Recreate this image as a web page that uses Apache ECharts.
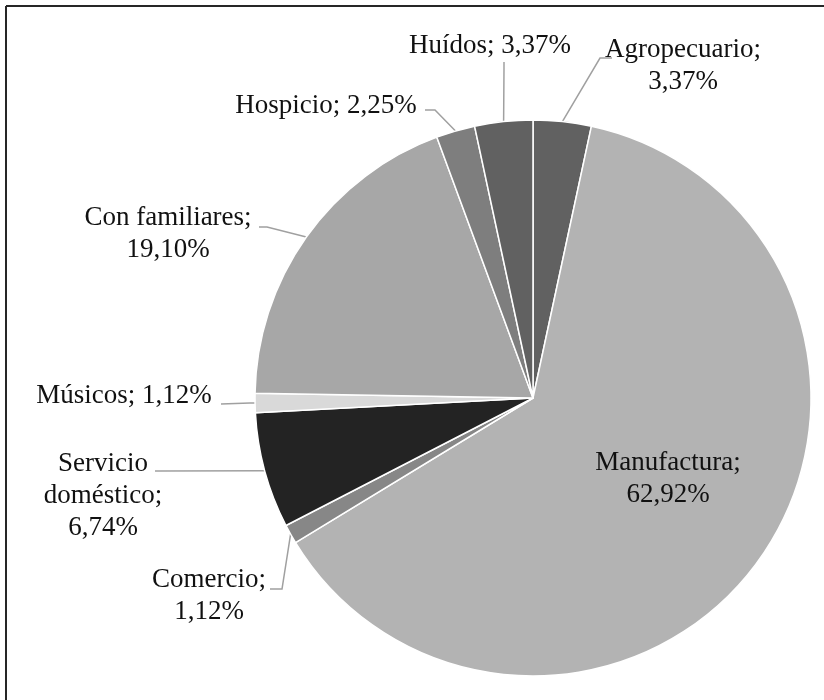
<!DOCTYPE html>
<html><head><meta charset="utf-8">
<script src="https://cdn.jsdelivr.net/npm/echarts@6/dist/echarts.min.js"></script>
<style>html,body{margin:0;padding:0;background:#fff}#c{width:824px;height:700px}</style>
</head><body><div id="c"></div>
<script>
// ---- data ----
const categories = ['Agropecuario','Manufactura','Comercio','Servicio doméstico','Músicos','Con familiares','Hospicio','Huídos'];
const values = [3.37, 62.92, 1.12, 6.74, 1.12, 19.10, 2.25, 3.37];

// ---- styles / layout ----
const colors = ['#616161','#b3b3b3','#878787','#232323','#d9d9d9','#a7a7a7','#7e7e7e','#616161'];
const labelName = {'Servicio doméstico': 'Servicio\ndoméstico'};
const labelSep = {'Músicos': ' ', 'Hospicio': ' ', 'Huídos': ' '};
const labelPlacement = {
  'Agropecuario': {x: 683, y: 66, line: [[600, 58], [612, 58]]},
  'Manufactura': {x: 668, y: 479},
  'Comercio': {x: 209, y: 596, line: [[282, 589], [270, 589]]},
  'Servicio doméstico': {x: 103, y: 496, line: [[160, 471], [155, 471]]},
  'Músicos': {x: 124, y: 396, line: [[250, 403], [221, 404]]},
  'Con familiares': {x: 168, y: 234, line: [[267, 227], [259, 227]]},
  'Hospicio': {x: 326, y: 106, line: [[435, 110], [425, 110]]},
  'Huídos': {x: 490, y: 46, line: [[504, 68], [504, 62]]}
};

const fmt = v => v.toFixed(2).replace('.', ',') + '%';

const chart = echarts.init(document.getElementById('c'), null, {renderer: 'canvas'});
const data = categories.map((name, i) => {
  const item = {name: name, value: values[i], itemStyle: {color: colors[i]}};
  if (name === 'Manufactura') {
    item.label = {position: 'inside'};
    item.labelLine = {show: false};
  }
  return item;
});

chart.setOption({
  animation: false,
  backgroundColor: '#fff',
  graphic: [
    {type: 'line', shape: {x1: 6, y1: 6, x2: 6, y2: 700}, style: {stroke: '#262626', lineWidth: 2}},
    {type: 'line', shape: {x1: 6, y1: 6, x2: 824, y2: 6}, style: {stroke: '#262626', lineWidth: 2}}
  ],
  series: [{
    type: 'pie',
    center: [533, 398],
    radius: 278,
    startAngle: 90,
    clockwise: true,
    avoidLabelOverlap: false,
    data: data,
    itemStyle: {borderColor: '#ffffff', borderWidth: 1.5},
    label: {
      show: true,
      position: 'outside',
      fontFamily: 'Liberation Serif',
      fontSize: 27,
      lineHeight: 32,
      color: '#111',
      formatter: p => (labelName[p.name] || p.name) + ';' + (labelSep[p.name] || '\n') + fmt(p.value)
    },
    labelLine: {show: true, length: 20, length2: 10, lineStyle: {color: '#a0a0a0', width: 1.5}},
    labelLayout: function (params) {
      const name = categories[params.dataIndex];
      const pl = labelPlacement[name];
      const res = {x: pl.x, y: pl.y, align: 'center', verticalAlign: 'middle'};
      if (pl.line && params.labelLinePoints) {
        res.labelLinePoints = [params.labelLinePoints[0]].concat(pl.line);
      }
      return res;
    }
  }]
});
</script>
</body></html>
